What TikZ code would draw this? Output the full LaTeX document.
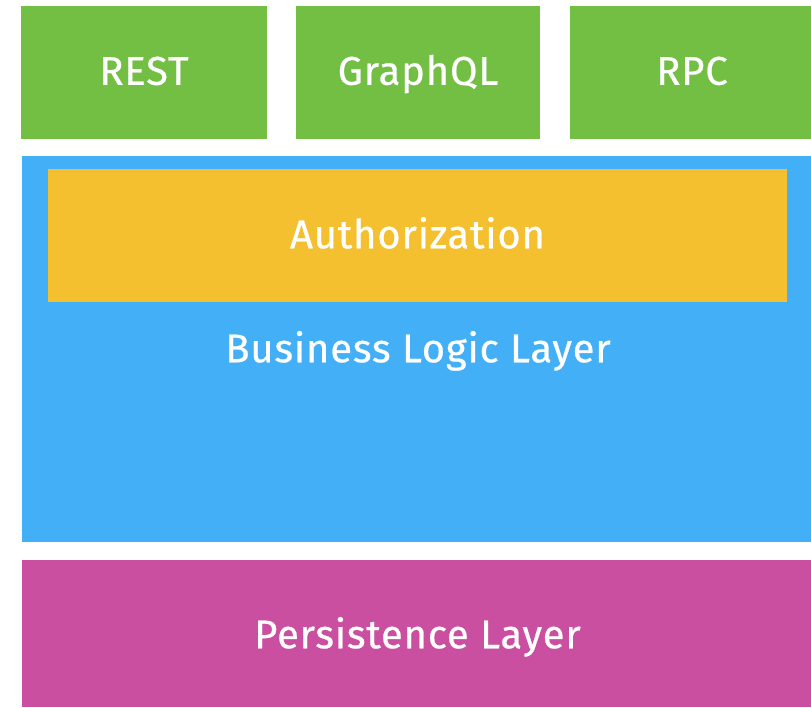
\documentclass[tikz,border=0pt]{standalone}
\usepackage{fontspec}
\setmainfont{Fira Sans}[LetterSpace=2.0, FakeBold=0.6]
\definecolor{apigreen}{HTML}{72BF44}
\definecolor{bizblue}{HTML}{42AFF6}
\definecolor{authyellow}{HTML}{F4C030}
\definecolor{perspink}{HTML}{CB4FA0}
\begin{document}
\begin{tikzpicture}[x=1pt,y=-1pt,
  layer/.style={rectangle, inner sep=0pt, outer sep=0pt, text=white,
    font=\fontsize{40}{44}\selectfont},
  lbl/.style={inner sep=0pt, text=white, text height=27.5pt, text depth=0pt,
    font=\fontsize{40}{44}\selectfont},
]
\useasboundingbox[fill=white] (0,0) rectangle (811,707);
\node[layer, fill=apigreen, minimum width=246pt, minimum height=133pt] (rest) at (144,72.5) {};
\node[layer, fill=apigreen, minimum width=244pt, minimum height=133pt] (graphql) at (418,72.5) {};
\node[layer, fill=apigreen, minimum width=241pt, minimum height=133pt] (rpc) at (690.5,72.5) {};
\node[layer, fill=bizblue, minimum width=789pt, minimum height=386pt] (biz) at (416.5,349) {};
\node[layer, fill=authyellow, minimum width=739pt, minimum height=133pt] (auth) at (417.5,235.5) {};
\node[layer, fill=perspink, minimum width=789pt, minimum height=147pt] (pers) at (416.5,633.5) {};
\node[lbl] (restlbl) at (144,71) {REST};
\node[lbl] (graphqllbl) at (418,71) {GraphQL};
\node[lbl] (rpclbl) at (692,71) {RPC};
\node[lbl] (authlbl) at (417.5,234.5) {Authorization};
\node[lbl] (bizlbl) at (418,348.5) {Business Logic Layer};
\node[lbl] (perslbl) at (417.5,634.5) {Persistence Layer};
\end{tikzpicture}
\end{document}
